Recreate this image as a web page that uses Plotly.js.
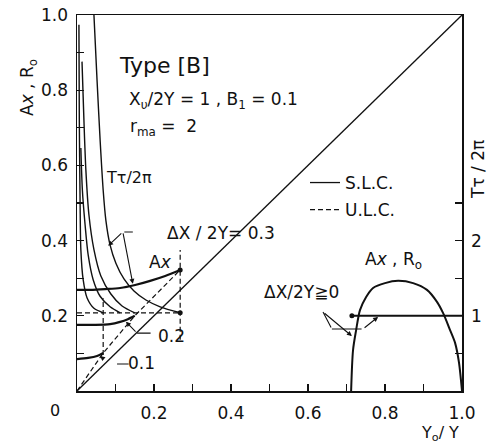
<!DOCTYPE html>
<html>
<head>
<meta charset="utf-8">
<script src="https://cdn.plot.ly/plotly-3.0.1.min.js"></script>
<style>
  html, body { margin: 0; padding: 0; background: #fff; }
  #chart { width: 497px; height: 447px; }
</style>
</head>
<body>
<div id="chart"></div>
<script>
// Ax, Ro (left axis) and Tτ/2π (right axis) against Yo/Y

// Ax curves, S.L.C., for ΔX/2Y = 0.1, 0.2, 0.3
const ax01_x = [0, 0.029, 0.052, 0.068];
const ax01_y = [0.085, 0.088, 0.093, 0.101];
const ax02_x = [0, 0.047, 0.086, 0.112, 0.132, 0.150];
const ax02_y = [0.176, 0.176, 0.178, 0.184, 0.191, 0.200];
const ax03_x = [0, 0.034, 0.073, 0.112, 0.151, 0.190, 0.229, 0.268];
const ax03_y = [0.269, 0.269, 0.271, 0.274, 0.282, 0.293, 0.306, 0.322];

// Tτ/2π curves (right axis units)
const tau1_x = [0.005, 0.006, 0.008, 0.010, 0.016, 0.026, 0.044, 0.068];
const tau1_T = [4.87, 3.61, 2.54, 1.88, 1.48, 1.24, 1.10, 1.04];
const tau2_x = [0.010, 0.014, 0.021, 0.029, 0.042, 0.060, 0.086, 0.112];
const tau2_T = [3.23, 2.67, 2.21, 1.81, 1.48, 1.26, 1.12, 1.04];
const tau3_x = [0.013, 0.018, 0.023, 0.031, 0.044, 0.062, 0.088, 0.117, 0.150];
const tau3_T = [4.38, 3.60, 2.94, 2.34, 1.88, 1.53, 1.29, 1.13, 1.04];
const tau4_x = [0.044, 0.052, 0.060, 0.068, 0.075, 0.086, 0.101, 0.122, 0.148, 0.179, 0.216, 0.268];
const tau4_T = [5.0, 4.14, 3.34, 2.67, 2.27, 1.94, 1.70, 1.49, 1.33, 1.21, 1.12, 1.04];

// U.L.C. locus joining the Ax end points
const ulc_x = [0, 0.068, 0.150, 0.268];
const ulc_y = [0, 0.101, 0.200, 0.322];
// U.L.C. level at Tτ/2π ≈ 1
const ulcT_x = [0, 0.268];
const ulcT_T = [1.04, 1.04];
// U.L.C. end markers
const ulcV_x = [0.268, 0.268];
const ulcV_y = [0.136, 0.375];
const ulcV1_x = [0.068, 0.068];
const ulcV1_y = [0.096, 0.247];

// Ax, Ro for ΔX/2Y ≧ 0
const axro_x = [0.712, 0.717, 0.725, 0.735, 0.751, 0.769, 0.800, 0.834, 0.873, 0.909, 0.935, 0.951, 0.969, 0.982, 0.992, 1.0];
const axro_y = [0, 0.109, 0.162, 0.215, 0.250, 0.274, 0.287, 0.293, 0.287, 0.269, 0.237, 0.207, 0.162, 0.128, 0.077, 0];
// Tτ/2π for ΔX/2Y ≧ 0
const tau0_x = [0.714, 1.0];
const tau0_T = [1.0, 1.0];

// diagonal Ax = Yo/Y
const diag_x = [0, 1];
const diag_y = [0, 1];

// axis ticks
const xTickVals = [0.1, 0.2, 0.3, 0.4, 0.5, 0.6, 0.7, 0.8, 0.9, 1.0];
const xTickText = ['', '0.2', '', '0.4', '', '0.6', '', '0.8', '', '1.0'];
const yTickVals = [0.1, 0.2, 0.3, 0.4, 0.5, 0.6, 0.7, 0.8, 0.9, 1.0];
const yTickText = ['', '0.2', '', '0.4', '', '0.6', '', '0.8', '', '1.0'];
const y2TickVals = [0.5, 1, 1.5, 2, 2.5];
const y2TickText = ['', '1', '', '2', ''];

const INK = '#111';
const FONT = 'DejaVu Sans, Liberation Sans, sans-serif';

function solid(x, y, w, yaxis, legend) {
  return {
    x: x, y: y, yaxis: yaxis || 'y', type: 'scatter', mode: 'lines',
    line: {color: INK, width: w, shape: 'spline', smoothing: 0.8},
    name: 'S.L.C.', legendgroup: 'slc', showlegend: !!legend, hoverinfo: 'skip'
  };
}
function dashed(x, y, yaxis, legend) {
  return {
    x: x, y: y, yaxis: yaxis || 'y', type: 'scatter', mode: 'lines',
    line: {color: INK, width: 1.2, dash: '5px,3px'},
    name: 'U.L.C.', legendgroup: 'ulc', showlegend: !!legend, hoverinfo: 'skip'
  };
}

const traces = [
  solid(diag_x, diag_y, 1.3, 'y', true),
  dashed(ulc_x, ulc_y, 'y', true),
  dashed(ulcT_x, ulcT_T, 'y2'),
  dashed(ulcV_x, ulcV_y, 'y'),
  dashed(ulcV1_x, ulcV1_y, 'y'),
  solid(ax01_x, ax01_y, 2.2),
  solid(ax02_x, ax02_y, 2.2),
  solid(ax03_x, ax03_y, 2.2),
  solid(tau1_x, tau1_T, 1.4, 'y2'),
  solid(tau2_x, tau2_T, 1.4, 'y2'),
  solid(tau3_x, tau3_T, 1.4, 'y2'),
  solid(tau4_x, tau4_T, 1.4, 'y2'),
  solid(axro_x, axro_y, 2.0),
  solid(tau0_x, tau0_T, 2.0, 'y2'),
  {
    x: [ax03_x[ax03_x.length - 1], tau4_x[tau4_x.length - 1], tau0_x[0]],
    y: [ax03_y[ax03_y.length - 1], tau4_T[tau4_T.length - 1] / 5, tau0_T[0] / 5],
    type: 'scatter', mode: 'markers', marker: {color: INK, size: 5},
    showlegend: false, hoverinfo: 'skip'
  }
];

function txt(x, y, text, size, extra) {
  return Object.assign({
    xref: 'paper', yref: 'paper', x: x, y: y, text: text, showarrow: false,
    font: {family: FONT, size: size, color: INK}, xanchor: 'center', yanchor: 'middle'
  }, extra || {});
}
// pixel helpers for labels inside the 385x376 plot area
const px = v => (v - 77) / 385;
const py = v => (391 - v) / 376;

function lead(hx, hy, tx, ty, head) {
  return {
    xref: 'x', yref: 'y', axref: 'x', ayref: 'y',
    x: hx, y: hy, ax: tx, ay: ty, text: '', showarrow: true,
    arrowhead: head ? 2 : 0, arrowsize: 0.9, arrowwidth: 1.1, arrowcolor: INK,
    standoff: 0, startstandoff: 0
  };
}

const annotations = [
  txt(px(164), py(65), 'Type [B]', 22),
  txt(px(127), py(100), 'X<sub>υ</sub>/2Y = 1 , B<sub>1</sub> = 0.1', 17, {xanchor: 'left'}),
  txt(px(128), py(127), 'r<sub>ma</sub> =  2', 17, {xanchor: 'left'}),
  txt(px(129), py(177), 'Tτ/2π', 16),
  txt(px(221), py(233), 'ΔX / 2Y= 0.3', 17),
  txt(px(160), py(262), 'A<i>x</i>', 17),
  txt(px(171), py(336), '0.2', 17),
  txt(px(141), py(363), '0.1', 17),
  txt(px(393), py(260), 'A<i>x</i> , R<sub>o</sub>', 17),
  txt(px(301), py(292), 'ΔX/2Y≧0', 17),
  txt(px(55), py(410), '0', 16),
  txt(px(28), py(88), 'A<i>x</i> , R<sub>o</sub>', 17, {textangle: -90}),
  txt(px(478), py(170), 'Tτ / 2π', 17, {textangle: -90}),
  txt(px(440), py(433), 'Y<sub>o</sub>/ Y', 16),
  // leaders for ΔX/2Y = 0.3
  lead(0.081, 0.386, 0.119, 0.423, true),
  lead(0.145, 0.285, 0.119, 0.423, true),
  lead(0.145, 0.423, 0.119, 0.423, false),
  // leaders for 0.2
  lead(0.156, 0.154, 0.195, 0.154, false),
  lead(0.127, 0.184, 0.156, 0.154, true),
  // leaders for 0.1
  lead(0.104, 0.072, 0.138, 0.072, false),
  lead(0.060, 0.093, 0.073, 0.082, true),
  // leaders for ΔX/2Y ≧ 0
  lead(0.714, 0.146, 0.639, 0.210, true),
  lead(0.639, 0.210, 0.662, 0.165, false),
  lead(0.662, 0.165, 0.743, 0.165, false),
  lead(0.782, 0.197, 0.743, 0.165, true)
];

const axisCommon = {
  showgrid: false, zeroline: false, showline: true, linecolor: INK, linewidth: 1.5,
  ticks: 'inside', ticklen: 7, tickwidth: 1.2, tickcolor: INK,
  tickfont: {family: FONT, size: 17, color: INK}
};

const layout = {
  width: 497, height: 447,
  margin: {l: 77, r: 35, t: 15, b: 56, pad: 0},
  paper_bgcolor: '#fff', plot_bgcolor: '#fff',
  font: {family: FONT, color: INK},
  showlegend: true,
  legend: {
    x: px(305), y: py(165), xanchor: 'left', yanchor: 'top',
    bgcolor: 'rgba(0,0,0,0)', borderwidth: 0,
    font: {family: FONT, size: 17, color: INK}, itemwidth: 30, tracegroupgap: 2
  },
  xaxis: Object.assign({}, axisCommon, {
    range: [0, 1], tickmode: 'array', tickvals: xTickVals, ticktext: xTickText,
    mirror: true, ticklabelstandoff: 6
  }),
  yaxis: Object.assign({}, axisCommon, {
    range: [0, 1], tickmode: 'array', tickvals: yTickVals, ticktext: yTickText,
    mirror: true, ticklabelstandoff: 4
  }),
  yaxis2: Object.assign({}, axisCommon, {
    range: [0, 5], overlaying: 'y', side: 'right', tickmode: 'array',
    tickvals: y2TickVals, ticktext: y2TickText, ticklabelstandoff: 4
  }),
  annotations: annotations
};

Plotly.newPlot('chart', traces, layout, {staticPlot: true, displayModeBar: false});
</script>
</body>
</html>
